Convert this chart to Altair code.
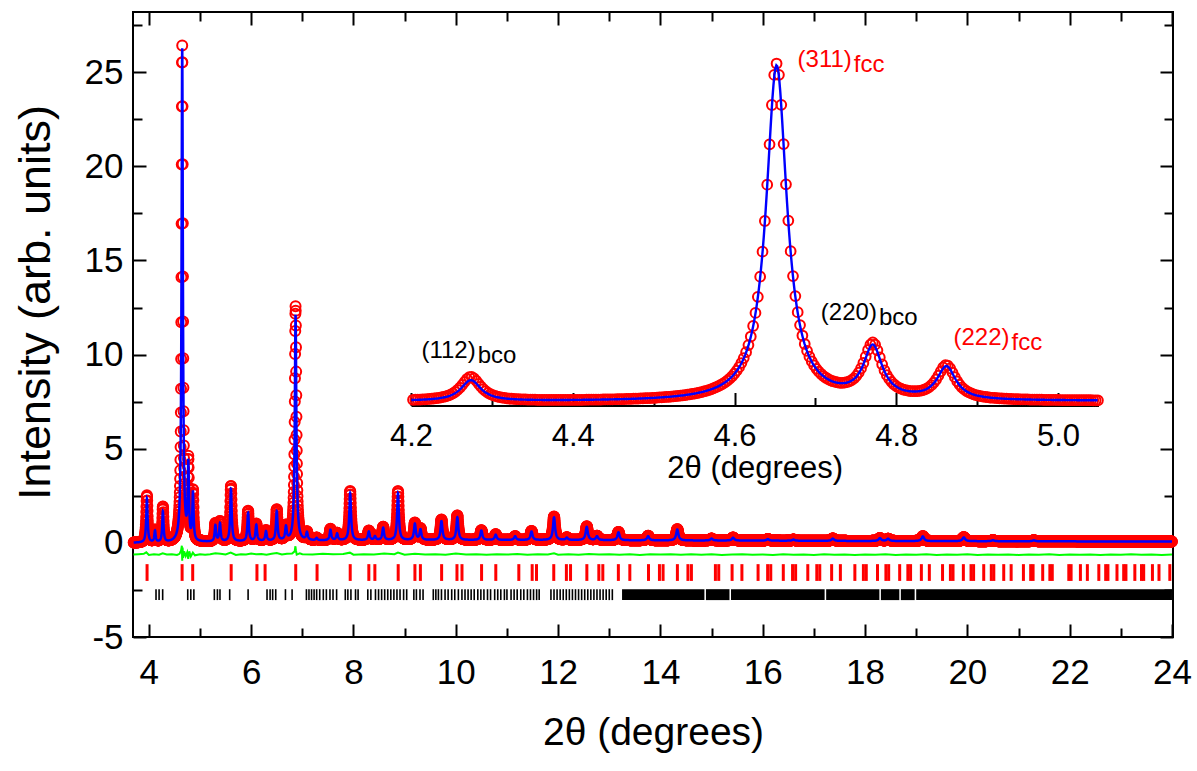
import numpy as np
import pandas as pd
import altair as alt

alt.data_transformers.disable_max_rows()
FONT = "Arial, 'Liberation Sans', sans-serif"

# ---------------- values ----------------
# reflection profile: position (deg 2theta), calculated height, observed height, FWHM
peak_pos = [3.962, 4.12, 4.274, 4.652, 4.771, 4.862, 5.30, 5.39, 5.605, 5.94,
            6.10, 6.29, 6.50, 6.68, 6.868, 7.09, 7.28, 7.55, 7.68, 7.935,
            8.30, 8.42, 8.58, 8.87, 9.20, 9.31, 9.72, 10.03, 10.50, 10.78,
            11.16, 11.48, 11.92, 12.17, 12.56, 12.76, 13.18, 13.76, 14.33, 15.00,
            15.42, 16.10, 16.60, 17.37, 18.29, 18.45, 19.13, 19.93, 20.50, 21.30]
peak_h_calc = [2.35, 0.6, 1.62, 26.2, 3.95, 2.52, 0.85, 0.95, 2.8, 1.5,
               0.85, 0.5, 1.55, 0.7, 12.0, 0.4, 0.12, 0.55, 0.35, 2.5,
               0.45, 0.2, 0.65, 2.5, 0.85, 0.55, 1.0, 1.2, 0.5, 0.28,
               0.2, 0.45, 1.2, 0.12, 0.7, 0.2, 0.42, 0.22, 0.58, 0.1,
               0.15, 0.08, 0.06, 0.12, 0.15, 0.12, 0.25, 0.2, 0.05, 0.05]
peak_h_obs = [2.5, 0.65, 1.88, 26.33, 4.1, 2.6, 0.95, 1.05, 2.95, 1.6,
              0.9, 0.55, 1.65, 0.75, 12.45, 0.42, 0.13, 0.6, 0.38, 2.62,
              0.5, 0.22, 0.7, 2.6, 0.9, 0.6, 1.08, 1.3, 0.52, 0.3,
              0.2, 0.48, 1.25, 0.13, 0.73, 0.22, 0.44, 0.24, 0.6, 0.1,
              0.16, 0.08, 0.06, 0.13, 0.15, 0.12, 0.26, 0.21, 0.05, 0.05]
peak_fwhm = [0.032, 0.03, 0.03, 0.031, 0.028, 0.028, 0.032, 0.032, 0.034, 0.034,
             0.035, 0.035, 0.036, 0.036, 0.036, 0.038, 0.038, 0.038, 0.038, 0.04,
             0.04, 0.04, 0.04, 0.04, 0.042, 0.042, 0.044, 0.044, 0.045, 0.045,
             0.046, 0.046, 0.048, 0.048, 0.05, 0.05, 0.05, 0.052, 0.052, 0.055,
             0.055, 0.056, 0.056, 0.058, 0.06, 0.06, 0.06, 0.062, 0.062, 0.064]
assert len(peak_pos) == len(peak_h_calc) == len(peak_h_obs) == len(peak_fwhm)

bg_x = [3.70, 4.50, 6.00, 8.00, 10.0, 12.0, 14.0, 16.0, 18.0, 20.0, 22.0, 24.0]
bg_y = [0.00, 0.00, 0.08, 0.13, 0.15, 0.15, 0.13, 0.12, 0.10, 0.09, 0.08, 0.07]

# difference curve (obs - calc, shifted)
diff_x = [3.70, 3.80, 3.90, 3.95, 4.00, 4.10, 4.20, 4.27, 4.35, 4.45, 4.55, 4.60, 4.63, 4.645,
          4.652, 4.66, 4.67, 4.69, 4.72, 4.75, 4.77, 4.79, 4.82, 4.86, 4.90, 5.00, 5.10, 5.20,
          5.30, 5.40, 5.50, 5.60, 5.70, 5.80, 5.90, 6.00, 6.10, 6.20, 6.30, 6.40, 6.50, 6.60,
          6.70, 6.80, 6.85, 6.865, 6.875, 6.89, 6.95, 7.00, 7.20, 7.40, 7.60, 7.80, 7.93, 8.00,
          8.20, 8.40, 8.60, 8.80, 8.87, 9.00, 9.20, 9.40, 9.60, 9.80, 10.0, 10.2, 10.4, 10.6,
          10.8, 11.0, 11.2, 11.4, 11.6, 11.8, 11.92, 12.0, 12.2, 12.4, 12.6, 12.8, 13.0, 13.2,
          13.4, 13.6, 13.8, 14.0, 14.2, 14.4, 14.6, 14.8, 15.0, 15.2, 15.4, 15.6, 15.8, 16.0,
          16.2, 16.4, 16.6, 16.8, 17.0, 17.2, 17.4, 17.6, 17.8, 18.0, 18.2, 18.4, 18.6, 18.8,
          19.0, 19.2, 19.4, 19.6, 19.8, 20.0, 20.2, 20.4, 20.6, 20.8, 21.0, 21.2, 21.4, 21.6,
          21.8, 22.0, 22.2, 22.4, 22.6, 22.8, 23.0, 23.2, 23.4, 23.6, 23.8, 24.0]
diff_y = [-0.62, -0.60, -0.58, -0.50, -0.64, -0.60, -0.63, -0.55, -0.62, -0.60, -0.64, -0.58, -0.40, -0.15,
          -0.95, -0.25, -0.80, -0.45, -0.70, -0.50, -0.85, -0.45, -0.72, -0.52, -0.66, -0.60, -0.63, -0.60,
          -0.55, -0.58, -0.62, -0.52, -0.64, -0.60, -0.62, -0.57, -0.61, -0.59, -0.63, -0.58, -0.54, -0.62,
          -0.58, -0.56, -0.45, -0.18, -0.40, -0.62, -0.55, -0.60, -0.62, -0.58, -0.61, -0.59, -0.52, -0.63,
          -0.60, -0.62, -0.57, -0.60, -0.52, -0.63, -0.58, -0.62, -0.60, -0.63, -0.57, -0.62, -0.60, -0.63,
          -0.60, -0.62, -0.59, -0.63, -0.60, -0.62, -0.55, -0.63, -0.61, -0.63, -0.59, -0.62, -0.60, -0.63,
          -0.61, -0.64, -0.60, -0.62, -0.60, -0.63, -0.61, -0.63, -0.61, -0.64, -0.62, -0.61, -0.63, -0.62,
          -0.64, -0.61, -0.63, -0.62, -0.64, -0.61, -0.63, -0.62, -0.64, -0.62, -0.63, -0.61, -0.64, -0.62,
          -0.63, -0.61, -0.64, -0.62, -0.63, -0.61, -0.64, -0.62, -0.63, -0.62, -0.64, -0.62, -0.63, -0.61,
          -0.64, -0.62, -0.63, -0.62, -0.64, -0.62, -0.63, -0.61, -0.63, -0.62, -0.64, -0.62]
assert len(diff_x) == len(diff_y)

# fcc reflection markers (red)
fcc_ticks = [3.965, 4.650, 4.857, 5.609, 6.113, 6.272, 6.871, 7.288, 7.936, 8.300, 8.418, 8.874,
             9.201, 9.308, 9.723, 10.023, 10.121, 10.504, 10.782, 11.232, 11.493, 11.578, 11.915,
             12.162, 12.243, 12.562, 12.796, 12.874, 13.178, 13.402, 13.767, 13.981, 14.052, 14.332,
             14.538, 14.606, 15.075, 15.140, 15.401, 15.593, 15.909, 16.096, 16.157, 16.402, 16.583,
             16.643, 16.881, 17.057, 17.115, 17.347, 17.518, 17.801, 17.968, 18.024, 18.244, 18.408,
             18.462, 18.677, 18.837, 18.890, 19.101, 19.257, 19.515, 19.669, 19.720, 19.922, 20.072,
             20.122, 20.320, 20.468, 20.517, 20.711, 20.856, 21.096, 21.238, 21.285, 21.473, 21.613,
             21.660, 21.983, 22.028, 22.210, 22.346, 22.570, 22.704, 22.748, 22.925, 23.056, 23.100,
             23.274, 23.404, 23.447, 23.618, 23.746, 23.958]
# bco reflection markers (black): single ticks, then dense bands
bco_ticks = [4.14, 4.20, 4.27, 4.76, 4.82, 4.88, 5.28, 5.34, 5.39, 5.58, 5.94, 6.31, 6.37, 6.42,
             6.48, 6.67, 6.80, 7.08, 7.13, 7.18, 7.23, 7.28, 7.34, 7.41, 7.47, 7.54, 7.60, 7.67,
             7.84, 7.89, 7.95, 8.04, 8.09, 8.28, 8.34, 8.43, 8.49, 8.55, 8.61, 8.67, 8.73, 8.79,
             8.85, 8.91, 8.98, 9.04, 9.18, 9.23, 9.30, 9.36, 9.56, 9.61, 9.66, 9.72, 9.79, 9.85,
             9.92, 9.98, 10.05, 10.12, 10.18, 10.24, 10.30, 10.36, 10.43, 10.49, 10.55, 10.62,
             10.68, 10.76, 10.82, 10.88, 10.95, 11.00, 11.08, 11.14, 11.20, 11.27, 11.33, 11.40,
             11.46, 11.52, 11.58, 11.63, 11.86, 11.92, 11.98, 12.04, 12.10, 12.16, 12.22, 12.28,
             12.34, 12.40, 12.46, 12.52, 12.58, 12.64, 12.70, 12.76, 12.82, 12.88, 12.94, 13.00,
             13.06]
bco_band_start = [13.25, 14.89, 15.38, 17.24, 18.31, 18.70, 19.00]
bco_band_end = [14.86, 15.35, 17.21, 18.28, 18.67, 18.97, 24.00]

# inset annotations
lab_main = ["(112)", "(311)", "(220)", "(222)"]
lab_sub = ["bco", "fcc", "bco", "fcc"]
lab_x = [4.280, 4.745, 4.776, 4.940]
lab_y = [3.39, 26.12, 6.38, 4.43]
lab_color = ["#000000", "#ff0000", "#000000", "#ff0000"]

x_major = [4, 6, 8, 10, 12, 14, 16, 18, 20, 22, 24]
x_minor = [5, 7, 9, 11, 13, 15, 17, 19, 21, 23]
y_major = [-5, 0, 5, 10, 15, 20, 25]
y_minor = [-2.5, 2.5, 7.5, 12.5, 17.5, 22.5, 27.5]
ix_major = [4.2, 4.4, 4.6, 4.8, 5.0]
ix_minor = [4.3, 4.5, 4.7, 4.9]


def profile(x, heights):
    y = np.interp(x, bg_x, bg_y)
    for p, h, w in zip(peak_pos, heights, peak_fwhm):
        d = (x - p) / (w / 2.0)
        y = y + h / (1.0 + d * d)
    return y


x_obs = 3.7037 + 0.0029 * np.arange(6999)
obs = pd.DataFrame({"x": np.round(x_obs, 4), "y": np.round(profile(x_obs, peak_h_obs), 4)})
x_calc = 3.7037 + 0.0012 * np.arange(16914)
calc = pd.DataFrame({"x": np.round(x_calc, 4), "y": np.round(profile(x_calc, peak_h_calc), 4)})
obs_in = obs[(obs.x >= 4.2) & (obs.x <= 5.05)]
calc_in = calc[(calc.x >= 4.2) & (calc.x <= 5.05)]
diff = pd.DataFrame({"x": diff_x, "y": diff_y})
fcc = pd.DataFrame({"x": fcc_ticks})
bco = pd.DataFrame({"x": bco_ticks})
bands = pd.DataFrame({"x": bco_band_start, "x2": bco_band_end})
labels = pd.DataFrame({"x": lab_x, "y": lab_y, "t": lab_main, "s": lab_sub, "c": lab_color})

W, H = 1040, 625
XM = alt.Scale(domain=[3.69, 24.02], nice=False, zero=False)
YM = alt.Scale(domain=[-5, 28.2], nice=False, zero=False)
XI = alt.Scale(domain=[4.2, 5.05], range=[278, 965.5], nice=False, zero=False)
YI = alt.Scale(domain=[-0.3, 28.0], range=[393.5, 31.2], nice=False, zero=False)


def tick_axis(orient, values, size, offset):
    return alt.Axis(orient=orient, values=values, ticks=True, tickSize=size, tickWidth=2,
                    tickColor="black", labels=False, domain=False, grid=False, title=None,
                    offset=offset)


x_label_axis = alt.Axis(orient="bottom", values=x_major, format="d", ticks=False, tickSize=0,
                        domain=False, grid=False, labelFontSize=35, labelFont=FONT,
                        labelColor="black", labelPadding=18, labelFlush=False, labelOverlap=False,
                        title="2θ (degrees)", titleFont=FONT, titleFontSize=39,
                        titleFontWeight="normal", titleColor="black", titlePadding=23)
y_label_axis = alt.Axis(orient="left", values=y_major, ticks=False, tickSize=0, domain=False,
                        grid=False, labelFontSize=35, labelFont=FONT, labelColor="black",
                        labelPadding=10, labelFlush=False, labelOverlap=False,
                        labelExpr="datum.value + ''",
                        title="Intensity (arb. units)", titleFont=FONT, titleFontSize=45,
                        titleFontWeight="normal", titleColor="black", titlePadding=26,
                        titleY=290)
inset_label_axis = alt.Axis(orient="bottom", values=ix_major, format=".1f", ticks=False,
                            tickSize=0, domain=True, domainColor="black", domainWidth=2,
                            grid=False, labelFontSize=31, labelFont=FONT, labelColor="black",
                            labelPadding=16, labelFlush=False, labelOverlap=False,
                            title="2θ (degrees)", titleFont=FONT, titleFontSize=31,
                            titleFontWeight="normal", titleColor="black", titlePadding=2,
                            offset=-231.5)

obs_layer = alt.Chart(obs).mark_point(shape="circle", filled=False, size=100, strokeWidth=2,
                                       color="#ff0000", opacity=1).encode(
    x=alt.X("x:Q", scale=XM, axis=x_label_axis),
    y=alt.Y("y:Q", scale=YM, axis=y_label_axis))

calc_layer = alt.Chart(calc).mark_line(color="#0000ff", strokeWidth=2.5).encode(
    x=alt.X("x:Q", scale=XM, axis=tick_axis("top", x_major, 13, -H)),
    y=alt.Y("y:Q", scale=YM, axis=tick_axis("right", y_major, 13, -W)))

diff_layer = alt.Chart(diff).mark_line(color="#00ff00", strokeWidth=2).encode(
    x=alt.X("x:Q", scale=XM, axis=tick_axis("top", x_minor, 9, -H)),
    y=alt.Y("y:Q", scale=YM, axis=tick_axis("right", y_minor, 9, -W)))

fcc_layer = alt.Chart(fcc).mark_rule(color="#ff0000", strokeWidth=3).encode(
    x=alt.X("x:Q", scale=XM, axis=tick_axis("bottom", x_major, 13, -H)),
    y=alt.YDatum(-1.13, scale=YM, axis=tick_axis("left", y_major, 13, -W)),
    y2=alt.Y2Datum(-2.02))

bco_layer = alt.Chart(bco).mark_rule(color="#000000", strokeWidth=1.6).encode(
    x=alt.X("x:Q", scale=XM, axis=tick_axis("bottom", x_minor, 9, -H)),
    y=alt.YDatum(-2.46, scale=YM, axis=tick_axis("left", y_minor, 9, -W)),
    y2=alt.Y2Datum(-3.04))

band_layer = alt.Chart(bands).mark_rect(color="#000000").encode(
    x=alt.X("x:Q", scale=XM, axis=None),
    x2="x2:Q",
    y=alt.YDatum(-2.46, scale=YM, axis=None),
    y2=alt.Y2Datum(-3.04))

inset_obs = alt.Chart(obs_in).mark_point(shape="circle", filled=False, size=95, strokeWidth=2,
                                         color="#ff0000", opacity=1).encode(
    x=alt.X("x:Q", scale=XI, axis=inset_label_axis),
    y=alt.Y("y:Q", scale=YI, axis=None))

inset_calc = alt.Chart(calc_in).mark_line(color="#0000ff", strokeWidth=2.4).encode(
    x=alt.X("x:Q", scale=XI, axis=tick_axis("top", ix_major, 13, -393.5)),
    y=alt.Y("y:Q", scale=YI, axis=None))

lab_layer = alt.Chart(labels).mark_text(align="right", baseline="alphabetic", font=FONT,
                                        fontSize=24).encode(
    x=alt.X("x:Q", scale=XI, axis=tick_axis("top", ix_minor, 8, -393.5)),
    y=alt.Y("y:Q", scale=YI, axis=None),
    text="t:N",
    color=alt.Color("c:N", scale=None))

sub_layer = alt.Chart(labels).mark_text(align="left", baseline="alphabetic", font=FONT,
                                        fontSize=24, dx=2, dy=5).encode(
    x=alt.X("x:Q", scale=XI, axis=None),
    y=alt.Y("y:Q", scale=YI, axis=None),
    text="s:N",
    color=alt.Color("c:N", scale=None))

chart = alt.layer(
    obs_layer, calc_layer, diff_layer, fcc_layer, bco_layer, band_layer,
    inset_obs, inset_calc, lab_layer, sub_layer
).resolve_scale(x="independent", y="independent").properties(
    width=W, height=H,
    padding={"left": 133, "top": 12, "right": 24, "bottom": 134},
    autosize=alt.AutoSizeParams(type="none"),
    background="white",
).configure_view(stroke="black", strokeWidth=2)

chart.save("out.html", embed_options={"renderer": "svg", "actions": False})
